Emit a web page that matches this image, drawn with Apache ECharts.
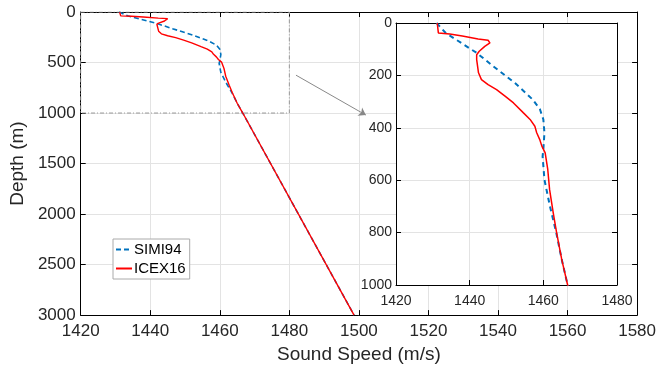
<!DOCTYPE html>
<html><head><meta charset="utf-8">
<script src="https://cdn.jsdelivr.net/npm/echarts@6/dist/echarts.min.js"></script>
<style>html,body{margin:0;padding:0;background:#fff}#c{width:659px;height:369px}</style>
</head><body><div id="c"></div>
<script>
const simiDepth = [0, 38, 114, 165, 229, 292, 330, 368, 419, 483, 509, 598, 700, 800, 903, 1000, 3000];
const simiSpeed = [1431.0, 1433.5, 1441.9, 1446.4, 1452.3, 1457.1, 1459.1, 1460.0, 1460.3, 1460.0, 1459.8, 1460.3, 1461.8, 1463.5, 1465.0, 1466.6, 1498.6];
const icexDepth = [0, 38, 42, 50, 61, 66, 76, 89, 108, 121, 140, 190, 216, 235, 254, 279, 305, 343, 368, 394, 419, 444, 470, 496, 559, 636, 726, 800, 903, 1000, 3000];
const icexSpeed = [1431.2, 1431.5, 1434.6, 1438.0, 1442.3, 1445.0, 1445.5, 1444.1, 1442.6, 1441.9, 1441.9, 1442.4, 1443.2, 1445.0, 1447.3, 1449.6, 1451.9, 1454.6, 1456.4, 1457.7, 1458.2, 1459.0, 1459.6, 1460.5, 1461.2, 1461.7, 1462.7, 1463.6, 1465.0, 1466.6, 1498.6];
const zoomBoxX = [1420, 1480, 1480, 1420, 1420];
const zoomBoxY = [0, 0, 1000, 1000, 0];
const arrowFrom = [1481.9, 625];
const arrowTo = [1502, 1020];
const names = ['SIMI94', 'ICEX16'];

const simi = simiDepth.map((d, i) => [simiSpeed[i], d]);
const icex = icexDepth.map((d, i) => [icexSpeed[i], d]);
const box = zoomBoxX.map((x, i) => [x, zoomBoxY[i]]);

const FONT = 'Liberation Sans, Arial, sans-serif';
const TXT = '#262626';
const GRIDC = '#e3e3e3';
const plain = v => String(v);

function axisBase(extra) {
  return Object.assign({
    type: 'value',
    axisLine: { show: true, onZero: false, lineStyle: { color: '#000', width: 1 } },
    axisTick: { show: true, inside: true, length: 5, lineStyle: { color: '#000' } },
    splitLine: { show: false },
    axisLabel: { show: false }
  }, extra);
}

const chart = echarts.init(document.getElementById('c'));
chart.setOption({
  animation: false,
  textStyle: { fontFamily: FONT },
  grid: [
    { left: 74, right: 19, top: 12, bottom: 51 },
    { left: 396, right: 42, top: 23, bottom: 84, show: true, backgroundColor: '#fff', borderWidth: 0, z: 10 }
  ],
  legend: {
    left: 113, top: 239, orient: 'vertical',
    data: names,
    backgroundColor: '#fff', borderColor: '#aaa', borderWidth: 1,
    padding: [3, 4, 3, 2], itemGap: 4, itemWidth: 16, itemHeight: 12,
    itemStyle: { opacity: 0 },
    textStyle: { fontSize: 15, color: '#000', fontFamily: FONT, padding: [0, 0, 0, -3] },
    z: 20
  },
  xAxis: [
    axisBase({ gridIndex: 0, min: 1420, max: 1580, interval: 20, position: 'bottom',
      splitLine: { show: true, lineStyle: { color: GRIDC } },
      axisLabel: { show: true, fontSize: 17, color: TXT, margin: 8, fontFamily: FONT, formatter: plain },
      name: 'Sound Speed (m/s)', nameLocation: 'middle', nameGap: 27,
      nameTextStyle: { fontSize: 19, color: TXT, fontFamily: FONT } }),
    axisBase({ gridIndex: 0, min: 1420, max: 1580, interval: 20, position: 'top' }),
    axisBase({ gridIndex: 1, min: 1420, max: 1480, interval: 20, position: 'bottom', z: 11,
      splitLine: { show: true, lineStyle: { color: GRIDC } },
      axisLabel: { show: true, fontSize: 14, color: TXT, margin: 9, fontFamily: FONT, formatter: plain } }),
    axisBase({ gridIndex: 1, min: 1420, max: 1480, interval: 20, position: 'top', z: 11 })
  ],
  yAxis: [
    axisBase({ gridIndex: 0, min: 0, max: 3000, interval: 500, inverse: true, position: 'left',
      splitLine: { show: true, lineStyle: { color: GRIDC } },
      axisLabel: { show: true, fontSize: 17, color: TXT, margin: 5, fontFamily: FONT, formatter: plain },
      name: 'Depth (m)', nameLocation: 'middle', nameGap: 46,
      nameTextStyle: { fontSize: 19, color: TXT, fontFamily: FONT } }),
    axisBase({ gridIndex: 0, min: 0, max: 3000, interval: 500, inverse: true, position: 'right' }),
    axisBase({ gridIndex: 1, min: 0, max: 1000, interval: 200, inverse: true, position: 'left', z: 11,
      splitLine: { show: true, lineStyle: { color: GRIDC } },
      axisLabel: { show: true, fontSize: 14, color: TXT, margin: 4, fontFamily: FONT, formatter: plain } }),
    axisBase({ gridIndex: 1, min: 0, max: 1000, interval: 200, inverse: true, position: 'right', z: 11 })
  ],
  series: [
    { type: 'line', name: 'box', xAxisIndex: 0, yAxisIndex: 0, data: box, showSymbol: false, symbol: 'none',
      lineStyle: { color: '#999', width: 1, type: [4, 2, 1, 2] }, z: 3, silent: true,
      markLine: { silent: true, symbol: ['none', 'arrow'], symbolSize: 7, label: { show: false },
        lineStyle: { color: '#888', width: 1, type: 'solid' },
        data: [[{ coord: arrowFrom }, { coord: arrowTo }]] } },
    { type: 'line', name: 'SIMI94', xAxisIndex: 0, yAxisIndex: 0, data: simi, symbol: 'none', showSymbol: false,
      lineStyle: { color: '#0072BD', width: 1.6, type: [5, 3] }, itemStyle: { color: '#0072BD' }, z: 4 },
    { type: 'line', name: 'ICEX16', xAxisIndex: 0, yAxisIndex: 0, data: icex, symbol: 'none', showSymbol: false,
      lineStyle: { color: '#FF0000', width: 1.4 }, itemStyle: { color: '#FF0000' }, z: 5 },
    { type: 'line', name: 'SIMI94', xAxisIndex: 2, yAxisIndex: 2, data: simi, symbol: 'none', showSymbol: false,
      lineStyle: { color: '#0072BD', width: 2, type: [5, 4] }, itemStyle: { color: '#0072BD' }, z: 12 },
    { type: 'line', name: 'ICEX16', xAxisIndex: 2, yAxisIndex: 2, data: icex, symbol: 'none', showSymbol: false,
      lineStyle: { color: '#FF0000', width: 1.5 }, itemStyle: { color: '#FF0000' }, z: 12 }
  ]
});
</script></body></html>
